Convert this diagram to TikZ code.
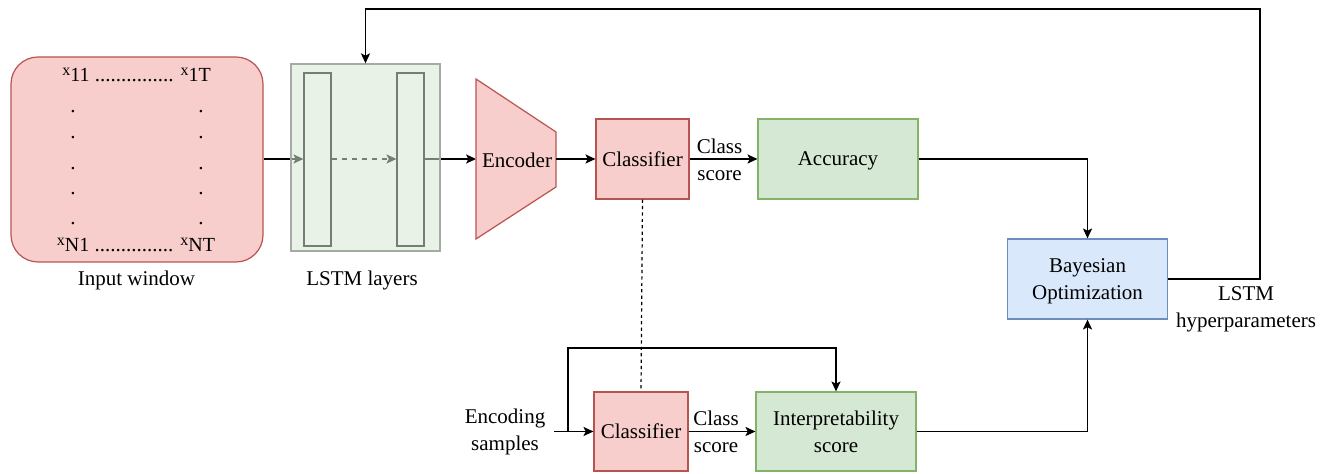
\documentclass[tikz,border=0pt]{standalone}
\usepackage{fontspec}
\setmainfont{Liberation Serif}
\usetikzlibrary{arrows.meta,calc}
\definecolor{redfill}{HTML}{F8CECC}
\definecolor{redline}{HTML}{B85450}
\definecolor{greenfill}{HTML}{D5E8D4}
\definecolor{greenline}{HTML}{82B366}
\definecolor{bluefill}{HTML}{DAE8FC}
\definecolor{blueline}{HTML}{6C8EBF}
\definecolor{lstmline}{HTML}{A3ABA3}
\newcommand{\xsub}[1]{\raisebox{3.4pt}{\fontsize{8}{8}\selectfont x}{\fontsize{10}{10}\selectfont #1}}
\tikzset{
  arr/.style={draw=black,line width=0.6pt,-{Stealth[length=5pt,width=4.6pt,inset=1.2pt]}},
  plain/.style={draw=black,line width=0.6pt},
  redbox/.style={draw=redline,fill=redfill,line width=0.6pt,inner sep=0pt,text depth=0pt},
  greenbox/.style={draw=greenline,fill=greenfill,line width=0.6pt,inner sep=0pt,align=center,text depth=0pt},
  bluebox/.style={draw=blueline,fill=bluefill,line width=0.6pt,inner sep=0pt,align=center,text depth=0pt},
  lstmcell/.style={draw=black,line width=0.6pt,minimum width=13.5pt,minimum height=86.5pt,inner sep=0pt},
  lbl/.style={align=center,inner sep=0pt},
  vdot/.style={anchor=base,inner sep=0pt},
}
\begin{document}
\begin{tikzpicture}[x=0.5pt,y=-0.5pt,font=\fontsize{10.5}{13.5}\selectfont]
\useasboundingbox (0,0) rectangle (1332,474);

% Input window
\node[redbox,rounded corners=13.5pt,minimum width=126pt,minimum height=102.5pt] (inw) at (137,159.5) {};
\node[lbl] (row1) at (136.5,75) {\xsub{11} ............... \xsub{1T}};
\node[lbl] (rowN) at (136,245) {\xsub{N1} ............... \xsub{NT}};
\foreach \yy [count=\i] in {113,139,170,195,225}{
  \node[vdot] (dl\i) at (73,\yy) {.};
  \node[vdot] (dr\i) at (201,\yy) {.};
}
\node[lbl] (inlab) at (136.5,280) {Input window};

% LSTM layers
\node[lstmcell] (l1) at (317.5,159.5) {};
\node[lstmcell] (l2) at (410.5,159.5) {};
\coordinate (encW) at (476,159);
\coordinate (encE) at (556,159);
\draw[arr] (inw.east |- 0,159) -- (l1.west |- 0,159);
\draw[arr,dash pattern=on 2.5pt off 2.5pt] (l1.east |- 0,159) -- (l2.west |- 0,159);
\draw[arr] (l2.east |- 0,159) -- (encW);
\node[draw=lstmline,fill=greenfill,fill opacity=0.55,line width=0.7pt,minimum width=74.5pt,minimum height=93.5pt,inner sep=0pt] (lstm) at (365.5,157.5) {};
\node[lbl] (lstmlab) at (362,280) {LSTM layers};

% Encoder
\draw[draw=redline,fill=redfill,line width=0.6pt] (476,79) -- (556,132) -- (556,187) -- (476,239) -- cycle;
\node[lbl] (enc) at (517,160) {Encoder};

% Top row
\node[redbox,minimum width=46.5pt,minimum height=40pt] (cls1) at (642.5,159) {Classifier};
\node[greenbox,minimum width=80pt,minimum height=40pt] (acc) at (838,159) {Accuracy};
\node[lbl] (cs1) at (719.5,159.5) {Class\\score};
\draw[arr] (encE) -- (cls1.west);
\draw[arr] (cls1.east) -- (acc.west);

% Bayesian optimization
\node[bluebox,minimum width=80pt,minimum height=40pt] (bo) at (1087.5,279) {Bayesian\\Optimization};
\node[lbl] (hyp) at (1246,309.5) {LSTM\\hyperparameters};
\draw[arr] (acc.east) -| (bo.north);
\coordinate (topR) at (1260,9);
\draw[arr] (bo.east) -| (topR) -| (lstm.north);

% Bottom row
\node[redbox,minimum width=47pt,minimum height=39.5pt] (cls2) at (641,431.5) {Classifier};
\node[greenbox,minimum width=80pt,minimum height=39.5pt] (intp) at (836,431.5) {Interpretability\\score};
\node[lbl] (cs2) at (716,431.5) {Class\\score};
\node[lbl] (encs) at (505,431.5) {Encoding\\samples};
\coordinate (encsE) at (554,431.5);
\coordinate (br) at (568,431.5);
\coordinate (brT) at (836,348);
\draw[arr] (encsE) -- (cls2.west);
\draw[arr] (br) |- (brT) -- (intp.north);
\draw[arr] (cls2.east) -- (intp.west);
\draw[arr] (intp.east) -| (bo.south);

% dashed link between classifiers
\draw[plain,dash pattern=on 1.6pt off 1.6pt] (cls1.south) -- (cls2.north);
\end{tikzpicture}
\end{document}
